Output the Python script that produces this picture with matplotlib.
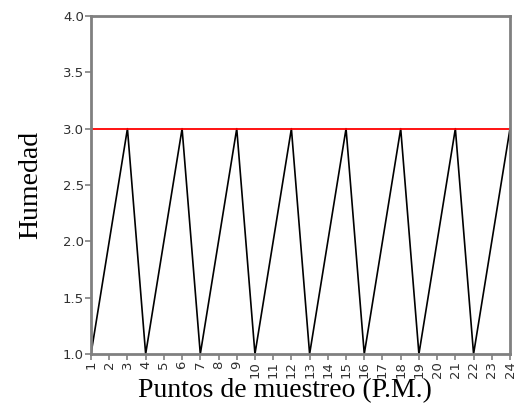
import matplotlib.pyplot as plt
import numpy as np

# sampling points and humidity readings
puntos = np.arange(1, 25)
humedad = [1, 2, 3, 1, 2, 3, 1, 2, 3, 1, 2, 3,
           1, 2, 3, 1, 2, 3, 1, 2, 3, 1, 2, 3]
limite = [3.0] * 24

fig = plt.figure(figsize=(5.15, 4.12), dpi=100)
ax = fig.add_axes([0.1767, 0.1408, 0.8136, 0.8203])

ax.plot(puntos, humedad, color='black', linewidth=1.2)
ax.plot(puntos, limite, color='red', linewidth=1.3)

ax.set_xlim(1, 24)
ax.set_ylim(1.0, 4.0)
ax.set_xticks(puntos)
ax.set_xticklabels([str(p) for p in puntos], rotation=90)
ax.set_yticks([1.0, 1.5, 2.0, 2.5, 3.0, 3.5, 4.0])
ax.set_yticklabels(['1.0', '1.5', '2.0', '2.5', '3.0', '3.5', '4.0'])

for s in ax.spines.values():
    s.set_color('#808080')
    s.set_linewidth(2)
ax.tick_params(axis='both', colors='#808080', labelcolor='#303030',
               labelsize=9.5, length=4, width=1.2, pad=1)

ax.set_xlabel('Puntos de muestreo (P.M.)', family='Liberation Serif',
              fontsize=20, labelpad=0)
ax.xaxis.label.set_x(0.463)
ax.set_ylabel('Humedad', family='Liberation Serif', fontsize=20, labelpad=14)

fig.savefig('out.png', dpi=100)
